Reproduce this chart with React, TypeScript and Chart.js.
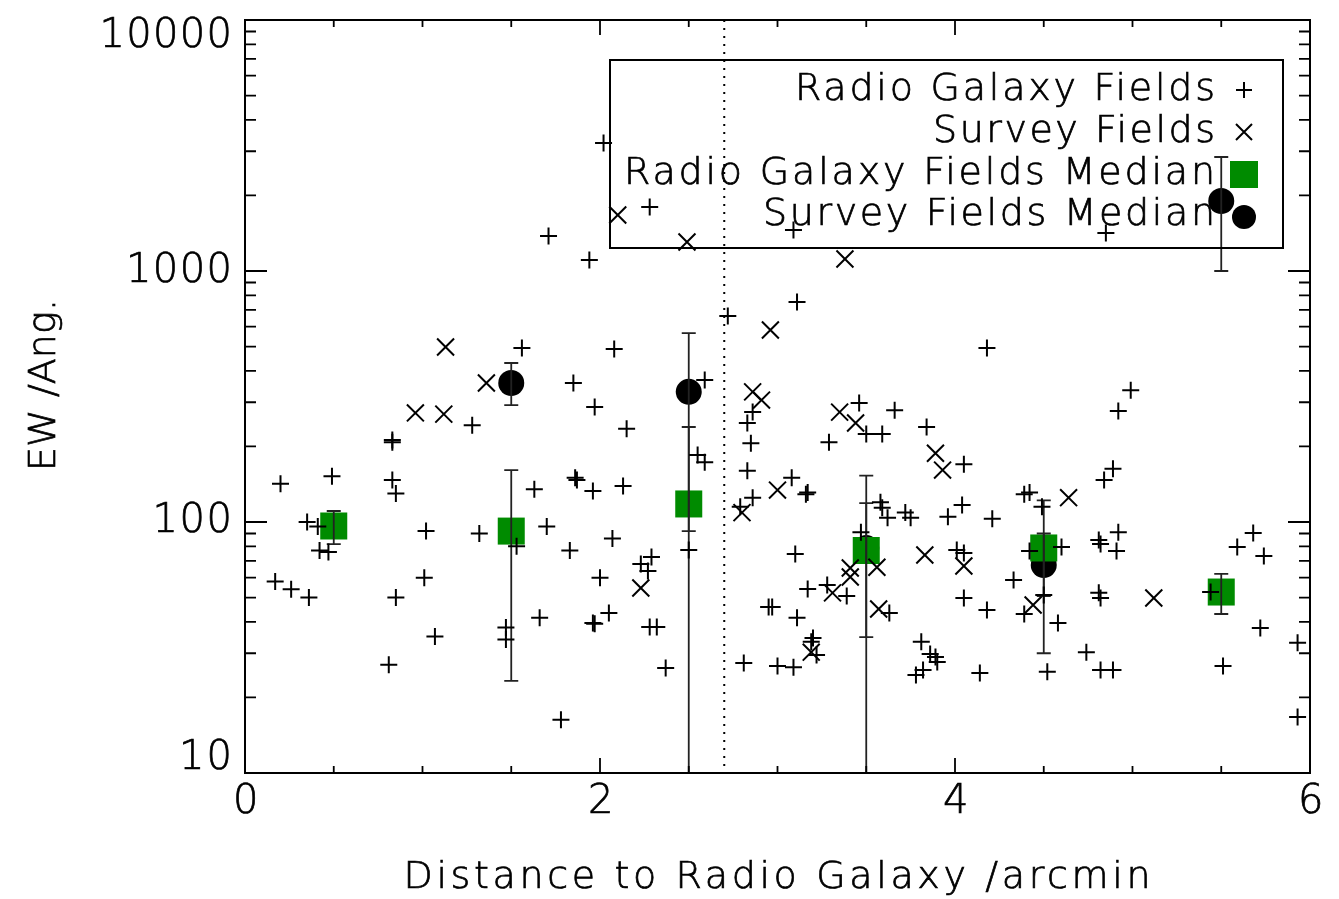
import React, { useEffect, useRef } from 'react';
import { Chart, registerables } from 'chart.js';
Chart.register(...registerables);

const FONT = "'DejaVu Sans ExtraLight', 'DejaVu Sans', sans-serif";
const GREEN = '#008b00';

// Radio Galaxy Fields (+)
const radioX = [0.20, 0.49, 0.35, 0.41, 0.42, 0.47, 0.17, 0.26, 0.36, 0.83, 0.83, 0.83, 0.85, 1.02, 1.01, 0.85, 1.07, 0.81, 1.28, 1.32,
  1.53, 1.47, 1.47, 1.56, 1.63, 1.66, 1.70, 1.78, 1.83, 1.85, 1.86, 1.87, 1.94, 1.96, 1.97, 2.00, 2.02, 2.05, 1.96, 1.97,
  2.07, 2.08, 2.13, 2.15, 2.29, 2.23, 2.27, 2.28, 2.32, 2.28, 2.37, 2.50, 2.55, 2.59, 2.72, 3.09, 3.11, 2.83, 2.86, 2.85,
  2.83, 2.86, 2.79, 3.08, 2.81, 3.00, 3.09, 3.10, 2.95, 2.97, 3.11, 3.46, 3.50, 3.59, 3.66, 3.29, 3.84, 4.05, 4.18, 3.16,
  3.17, 3.58, 3.59, 3.62, 3.72, 3.75, 4.04, 3.96, 4.21, 4.39, 3.47, 4.01, 4.05, 4.42, 3.28, 3.39, 3.17, 4.33, 4.05, 4.18,
  3.63, 4.39, 3.20, 3.19, 3.22, 3.81, 3.86, 3.89, 3.90, 3.78, 3.82, 4.14, 4.99, 4.92, 4.89, 4.84, 4.49, 4.42, 4.92, 4.91,
  4.81, 4.82, 4.60, 4.50, 4.58, 4.81, 4.82, 5.68, 5.59, 5.74, 5.72, 5.93, 4.74, 4.82, 4.89, 4.52, 5.51, 5.93, 4.85, 1.71,
  2.59, 5.44];
const radioY = [142, 152, 100, 96, 77, 76, 58, 54, 50, 208, 212, 147, 130, 92, 60, 50, 35, 27, 243, 90,
  80, 38, 34, 493, 135, 41.5, 96, 16.3, 77, 358, 150, 147, 1106, 133, 287, 60, 3236, 43.4, 39.6, 39.3,
  86, 489, 139, 235, 72.6, 68, 63.8, 38.2, 38.2, 1799, 26.2, 77.3, 185, 173, 662, 1457, 752, 248, 274, 206,
  160, 125, 115, 150, 27.4, 26.7, 26.4, 74.6, 45.9, 45.9, 41.5, 298, 224, 224, 279, 208, 239, 170, 493, 129,
  131, 120, 114, 104, 109, 104, 117, 105, 103, 129, 91, 77.3, 75.2, 76.6, 56.1, 50.7, 54.1, 58.7, 49.8, 44.6,
  43.4, 43, 34.5, 33.3, 29.5, 33.3, 29.8, 29, 27.7, 24.6, 25.7, 25, 335, 277, 163, 147, 115, 131, 91, 76.6,
  84.8, 81.7, 79.5, 51.2, 39.6, 52.2, 49.8, 90.4, 79.5, 73.2, 37.8, 33, 30.3, 25.7, 25.7, 25.3, 26.7, 16.7, 1417, 1378,
  368, 52.6];

// Survey Fields (x)
const surveyX = [1.13, 1.36, 0.96, 1.12, 2.10, 2.49, 2.96, 2.23, 2.80, 3.00, 3.38, 3.35, 3.44, 3.89, 3.93, 3.83, 4.05, 3.41, 3.41, 3.56,
  3.31, 3.57, 4.44, 3.19, 4.64, 5.12, 2.86, 2.91];
const surveyY = [498, 358, 272, 269, 1671, 1305, 582, 54.6, 109, 134, 1116, 274, 248, 188, 161, 73.9, 66.8, 65.6, 60.4, 66,
  52.2, 45, 46.7, 30.3, 125, 49.8, 330, 306];

// Medians
const radioMedX = [0.5, 1.5, 2.5, 3.5, 4.5, 5.5];
const radioMed = [96.4, 92, 118, 77, 78.8, 52.6];
const radioLo = [81.7, 23.3, 92, 34.8, 30, 43];
const radioHi = [110.6, 161, 239, 119, 122, 62.1];

const surveyMedX = [1.5, 2.5, 3.5, 4.5, 5.5];
const surveyMed = [358, 330, 78.8, 67.4, 1901];
const surveyLo = [292, 1, 1, 50.7, 1000];
const surveyHi = [430, 566, 153, 90, 2846];

const yTickValues = [10, 100, 1000, 10000];
const yTickLabels = ['10', '100', '1000', '10000'];
const xTickValues = [0, 2, 4, 6];
const xTickLabels = ['0', '2', '4', '6'];
const dividerX = 2.7;

const legendLabels = ['Radio Galaxy Fields', 'Survey Fields', 'Radio Galaxy Fields Median', 'Survey Fields Median'];
const xTitle = 'Distance to Radio Galaxy /arcmin';
const yTitle = 'EW /Ang.';

function fitText(ctx: CanvasRenderingContext2D, text: string, x: number, y: number, size: number, targetW: number, align: string) {
  ctx.save();
  ctx.font = `200 ${size}px ${FONT}`;
  (ctx as any).letterSpacing = '0px';
  const w = ctx.measureText(text).width;
  const ls = (targetW - w) / Math.max(1, text.length - 1);
  (ctx as any).letterSpacing = ls + 'px';
  const x0 = align === 'right' ? x - targetW : align === 'center' ? x - targetW / 2 : x;
  ctx.textAlign = 'left';
  ctx.textBaseline = 'middle';
  ctx.fillStyle = '#000';
  ctx.strokeStyle = '#000';
  ctx.lineWidth = 0.7;
  ctx.fillText(text, x0, y);
  ctx.strokeText(text, x0, y);
  ctx.restore();
}

const overlay = {
  id: 'overlay',
  beforeDatasetsDraw(chart: any) {
    const { ctx, chartArea: a, scales } = chart;
    const px = scales.x.getPixelForValue(dividerX);
    ctx.save();
    ctx.strokeStyle = '#000';
    ctx.lineWidth = 2;
    ctx.setLineDash([2, 6]);
    ctx.beginPath();
    ctx.moveTo(px, a.top);
    ctx.lineTo(px, a.bottom);
    ctx.stroke();
    ctx.restore();
  },
  afterDatasetDraw(chart: any, args: any) {
    if (args.index !== 2) return;
    const { ctx, chartArea: a, scales } = chart;
    ctx.save();
    ctx.beginPath();
    ctx.rect(a.left, a.top, a.right - a.left, a.bottom - a.top);
    ctx.clip();
    ctx.strokeStyle = '#222';
    ctx.lineWidth = 1.8;
    const drawBar = (xv: number, lo: number, hi: number) => {
      const x = scales.x.getPixelForValue(xv);
      const y1 = scales.y.getPixelForValue(lo);
      const y2 = scales.y.getPixelForValue(hi);
      ctx.beginPath();
      ctx.moveTo(x, y1); ctx.lineTo(x, y2);
      ctx.moveTo(x - 7, y1); ctx.lineTo(x + 7, y1);
      ctx.moveTo(x - 7, y2); ctx.lineTo(x + 7, y2);
      ctx.stroke();
    };
    radioMedX.forEach((xv, i) => drawBar(xv, radioLo[i], radioHi[i]));
    surveyMedX.forEach((xv, i) => drawBar(xv, surveyLo[i], surveyHi[i]));
    ctx.restore();
  },
  afterDraw(chart: any) {
    const { ctx, chartArea: a, scales } = chart;
    ctx.save();
    ctx.strokeStyle = '#000';
    ctx.lineWidth = 2;
    ctx.strokeRect(a.left, a.top, a.right - a.left, a.bottom - a.top);
    ctx.lineWidth = 1.8;
    ctx.beginPath();
    for (let d = 10; d <= 10000; d *= 10) {
      for (let m = 1; m < 10; m++) {
        const v = d * m;
        if (v > 10000) break;
        const y = scales.y.getPixelForValue(v);
        const len = m === 1 ? 22 : 11;
        ctx.moveTo(a.left, y); ctx.lineTo(a.left + len, y);
        ctx.moveTo(a.right, y); ctx.lineTo(a.right - len, y);
      }
    }
    for (let k = 0; k <= 12; k++) {
      const v = k * 0.5;
      const x = scales.x.getPixelForValue(v);
      const len = k % 4 === 0 ? 15 : 7;
      ctx.moveTo(x, a.bottom); ctx.lineTo(x, a.bottom - len);
      ctx.moveTo(x, a.top); ctx.lineTo(x, a.top + len);
    }
    ctx.stroke();

    const yLabelY = [759, 522, 272, 37];
    yTickLabels.forEach((t, i) => {
      fitText(ctx, t, 232, yLabelY[i], 40, 26.5 * t.length, 'right');
    });
    xTickValues.forEach((v, i) => {
      const x = scales.x.getPixelForValue(v) - 2;
      fitText(ctx, xTickLabels[i], x, 803, 40, 20, 'center');
    });
    fitText(ctx, xTitle, 777, 878, 38, 747, 'center');
    ctx.save();
    ctx.translate(45, 385);
    ctx.rotate(-Math.PI / 2);
    fitText(ctx, yTitle, 0, 0, 38, 172, 'center');
    ctx.restore();

    ctx.lineWidth = 2;
    ctx.strokeStyle = '#000';
    ctx.strokeRect(610, 60, 673, 188);
    const rows = [90, 132, 174, 215];
    const widths = [420, 282, 591, 452];
    legendLabels.forEach((t, i) => fitText(ctx, t, 1215, rows[i], 38, widths[i], 'right'));
    const sx = 1244;
    ctx.lineWidth = 2;
    ctx.strokeStyle = '#000';
    ctx.beginPath();
    ctx.moveTo(sx - 8, rows[0]); ctx.lineTo(sx + 8, rows[0]);
    ctx.moveTo(sx, rows[0] - 8); ctx.lineTo(sx, rows[0] + 8);
    ctx.moveTo(sx - 8, rows[1] - 8); ctx.lineTo(sx + 8, rows[1] + 8);
    ctx.moveTo(sx - 8, rows[1] + 8); ctx.lineTo(sx + 8, rows[1] - 8);
    ctx.stroke();
    ctx.fillStyle = GREEN;
    ctx.fillRect(sx - 14, rows[2] - 13, 28, 27);
    ctx.fillStyle = '#000';
    ctx.beginPath();
    ctx.arc(sx, rows[3] + 2, 12, 0, Math.PI * 2);
    ctx.fill();
    ctx.restore();
  },
};

export default function App() {
  const ref = useRef<HTMLCanvasElement>(null);
  useEffect(() => {
    const chart = new Chart(ref.current!, {
      type: 'scatter',
      data: {
        datasets: [
          {
            label: 'Radio Galaxy Fields',
            data: radioX.map((x, i) => ({ x, y: radioY[i] })),
            pointStyle: 'cross', radius: 8.5, borderWidth: 2, borderColor: '#000', backgroundColor: '#000',
          },
          {
            label: 'Survey Fields',
            data: surveyX.map((x, i) => ({ x, y: surveyY[i] })),
            pointStyle: 'crossRot', radius: 12, borderWidth: 2, borderColor: '#000', backgroundColor: '#000',
          },
          {
            label: 'Radio Galaxy Fields Median',
            data: radioMedX.map((x, i) => ({ x, y: radioMed[i] })),
            pointStyle: 'rect', radius: 19.1, borderWidth: 0, borderColor: GREEN, backgroundColor: GREEN,
          },
          {
            label: 'Survey Fields Median',
            data: surveyMedX.map((x, i) => ({ x, y: surveyMed[i] })),
            pointStyle: 'circle', radius: 13, borderWidth: 0, borderColor: '#000', backgroundColor: '#000',
          },
        ],
      },
      options: {
        animation: false,
        responsive: false,
        layout: { padding: { top: 20, right: 29, left: 0, bottom: 0 } },
        plugins: { legend: { display: false }, tooltip: { enabled: false }, title: { display: false } },
        scales: {
          x: {
            type: 'linear', min: 0, max: 6,
            grid: { display: false }, border: { display: false }, ticks: { display: false },
            afterFit: (s: any) => { s.height = 126; },
          },
          y: {
            type: 'logarithmic', min: 10, max: 10000,
            grid: { display: false }, border: { display: false }, ticks: { display: false },
            afterFit: (s: any) => { s.width = 245; },
          },
        },
      },
      plugins: [overlay],
    } as any);
    return () => chart.destroy();
  }, []);
  return (
    <div style={{ position: 'fixed', left: 0, top: 0, width: 1339, height: 899, background: '#fff' }}>
      <canvas ref={ref} width={1339} height={899} style={{ display: 'block', width: 1339, height: 899 }} />
    </div>
  );
}
